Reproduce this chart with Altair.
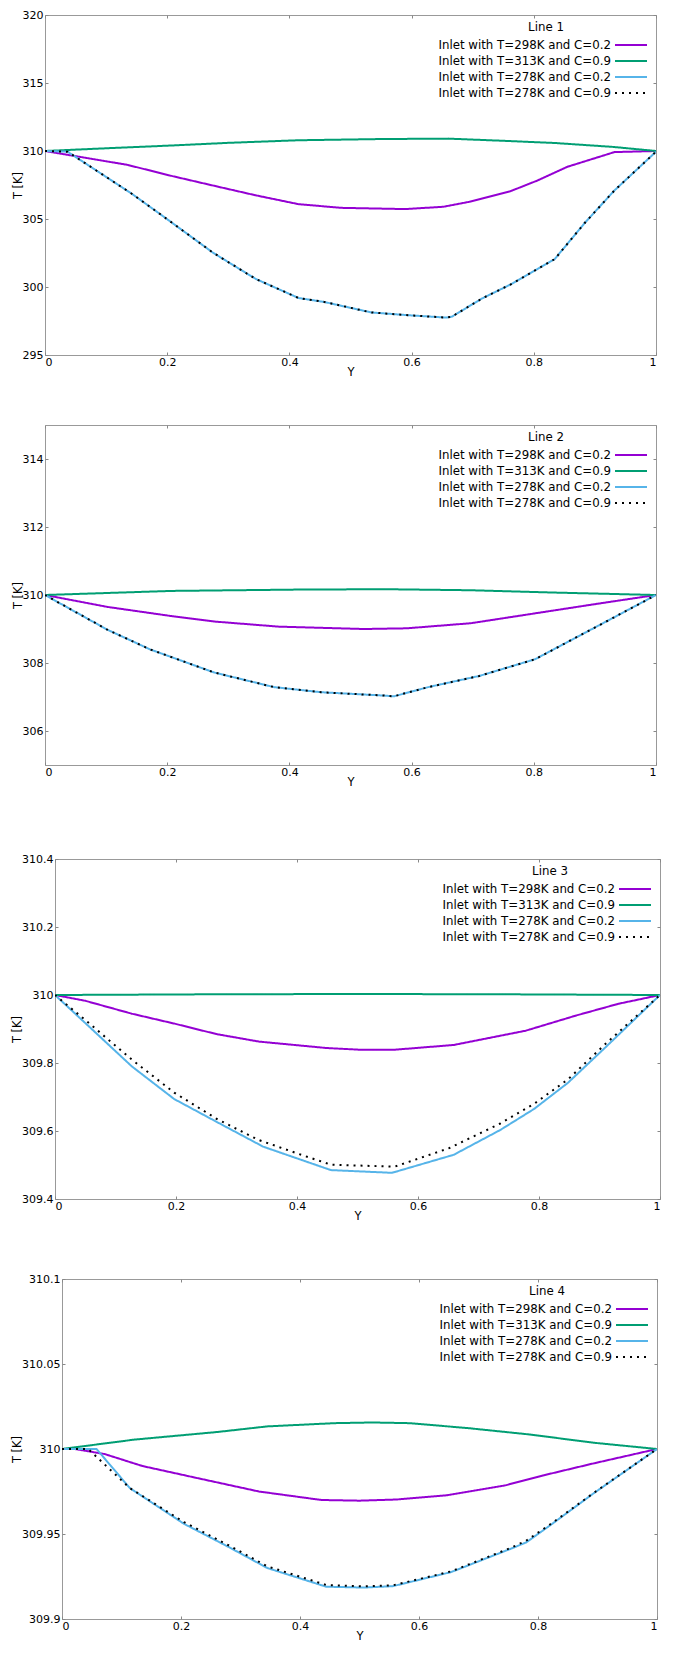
import altair as alt
import pandas as pd

SERIES = [
    "Inlet with T=298K and C=0.2",
    "Inlet with T=313K and C=0.9",
    "Inlet with T=278K and C=0.2",
    "Inlet with T=278K and C=0.9",
]
COLORS = ["#9400d3", "#009e73", "#56b4e9", "#000000"]
DASHES = [[1, 0], [1, 0], [1, 0], [2, 5]]
X_TICKS = [0, 0.2, 0.4, 0.6, 0.8, 1]
PANEL_TITLES = ["Line 1", "Line 2", "Line 3", "Line 4"]
FONT = "DejaVu Sans"

# ---------------- Line 1 ----------------
l1_purple_x = [0, 0.135, 0.205, 0.275, 0.345, 0.415, 0.485, 0.59, 0.652, 0.694, 0.761, 0.806, 0.855, 0.932, 1.0]
l1_purple_t = [310.0, 308.98, 308.19, 307.46, 306.74, 306.09, 305.82, 305.73, 305.90, 306.26, 307.03, 307.83, 308.84, 309.92, 310.0]
l1_green_x = [0, 0.1, 0.205, 0.3, 0.415, 0.55, 0.66, 0.75, 0.834, 0.93, 1.0]
l1_green_t = [310.0, 310.2, 310.40, 310.6, 310.79, 310.88, 310.91, 310.75, 310.59, 310.3, 310.0]
l1_blue_x = [0, 0.037, 0.142, 0.198, 0.275, 0.345, 0.415, 0.457, 0.534, 0.59, 0.656, 0.666, 0.715, 0.764, 0.806, 0.834, 0.883, 0.932, 1.0]
l1_blue_t = [310.0, 309.95, 306.86, 305.05, 302.52, 300.59, 299.19, 298.9, 298.13, 297.94, 297.75, 297.82, 299.15, 300.23, 301.32, 302.04, 304.69, 307.10, 309.95]
l1_dot_x = [0, 0.037, 0.142, 0.198, 0.275, 0.345, 0.415, 0.457, 0.534, 0.59, 0.656, 0.666, 0.715, 0.764, 0.806, 0.834, 0.883, 0.932, 1.0]
l1_dot_t = [310.0, 309.95, 306.86, 305.05, 302.52, 300.59, 299.19, 298.9, 298.13, 297.94, 297.75, 297.82, 299.15, 300.23, 301.32, 302.04, 304.69, 307.10, 309.95]

# ---------------- Line 2 ----------------
l2_purple_x = [0, 0.102, 0.207, 0.277, 0.382, 0.522, 0.592, 0.697, 0.802, 0.907, 1.0]
l2_purple_t = [310.0, 309.65, 309.38, 309.22, 309.07, 309.0, 309.02, 309.17, 309.46, 309.75, 310.0]
l2_green_x = [0, 0.207, 0.417, 0.557, 0.697, 0.837, 1.0]
l2_green_t = [310.0, 310.12, 310.16, 310.17, 310.14, 310.07, 310.0]
l2_blue_x = [0, 0.102, 0.172, 0.277, 0.375, 0.452, 0.557, 0.571, 0.627, 0.711, 0.802, 0.907, 1.0]
l2_blue_t = [310.0, 308.98, 308.4, 307.72, 307.29, 307.14, 307.04, 307.02, 307.29, 307.62, 308.11, 309.11, 310.0]
l2_dot_x = [0, 0.102, 0.172, 0.277, 0.375, 0.452, 0.557, 0.571, 0.627, 0.711, 0.802, 0.907, 1.0]
l2_dot_t = [310.0, 308.98, 308.4, 307.72, 307.29, 307.14, 307.04, 307.02, 307.29, 307.62, 308.11, 309.11, 310.0]

# ---------------- Line 3 ----------------
l3_purple_x = [0, 0.05, 0.127, 0.197, 0.267, 0.337, 0.449, 0.505, 0.561, 0.659, 0.778, 0.862, 0.931, 1.0]
l3_purple_t = [310.0, 309.983, 309.945, 309.916, 309.885, 309.863, 309.844, 309.839, 309.839, 309.853, 309.895, 309.94, 309.974, 310.0]
l3_green_x = [0, 0.25, 0.5, 0.75, 1.0]
l3_green_t = [310.0, 310.002, 310.003, 310.002, 310.0]
l3_blue_x = [0, 0.057, 0.127, 0.197, 0.267, 0.344, 0.456, 0.557, 0.659, 0.736, 0.792, 0.848, 0.911, 1.0]
l3_blue_t = [310.0, 309.906, 309.79, 309.694, 309.627, 309.554, 309.485, 309.477, 309.53, 309.603, 309.665, 309.742, 309.848, 310.0]
l3_dot_x = [0, 0.057, 0.127, 0.197, 0.267, 0.336, 0.407, 0.456, 0.561, 0.652, 0.736, 0.792, 0.848, 0.911, 1.0]
l3_dot_t = [310.0, 309.916, 309.81, 309.713, 309.636, 309.574, 309.53, 309.501, 309.495, 309.55, 309.622, 309.68, 309.752, 309.858, 310.0]

# ---------------- Line 4 ----------------
l4_purple_x = [0, 0.022, 0.072, 0.135, 0.226, 0.331, 0.436, 0.5, 0.563, 0.647, 0.745, 0.808, 0.893, 1.0]
l4_purple_t = [310.0, 310.0, 309.997, 309.990, 309.983, 309.975, 309.970, 309.9696, 309.9703, 309.9728, 309.9786, 309.9844, 309.9915, 310.0]
l4_green_x = [0, 0.121, 0.261, 0.345, 0.458, 0.521, 0.584, 0.682, 0.787, 0.893, 1.0]
l4_green_t = [310.0, 310.0055, 310.010, 310.0133, 310.0152, 310.0156, 310.0152, 310.0123, 310.0085, 310.0037, 310.0]
l4_blue_x = [0, 0.058, 0.114, 0.205, 0.282, 0.345, 0.444, 0.507, 0.556, 0.654, 0.752, 0.78, 0.822, 0.893, 1.0]
l4_blue_t = [310.0, 310.0, 309.977, 309.956, 309.942, 309.930, 309.919, 309.9185, 309.9193, 309.9276, 309.941, 309.945, 309.9555, 309.9738, 310.0]
l4_dot_x = [0, 0.044, 0.114, 0.205, 0.282, 0.345, 0.444, 0.507, 0.556, 0.654, 0.752, 0.78, 0.822, 0.893, 1.0]
l4_dot_t = [310.0, 310.0, 309.977, 309.957, 309.943, 309.931, 309.920, 309.9192, 309.9198, 309.928, 309.9415, 309.946, 309.956, 309.974, 310.0]

Y_DOMAINS = [[295, 320], [305, 315], [309.4, 310.4], [309.9, 310.1]]
Y_TICKS = [
    [295, 300, 305, 310, 315, 320],
    [306, 308, 310, 312, 314],
    [309.4, 309.6, 309.8, 310, 310.2, 310.4],
    [309.9, 309.95, 310, 310.05, 310.1],
]
PANELS = [
    [(l1_purple_x, l1_purple_t), (l1_green_x, l1_green_t), (l1_blue_x, l1_blue_t), (l1_dot_x, l1_dot_t)],
    [(l2_purple_x, l2_purple_t), (l2_green_x, l2_green_t), (l2_blue_x, l2_blue_t), (l2_dot_x, l2_dot_t)],
    [(l3_purple_x, l3_purple_t), (l3_green_x, l3_green_t), (l3_blue_x, l3_blue_t), (l3_dot_x, l3_dot_t)],
    [(l4_purple_x, l4_purple_t), (l4_green_x, l4_green_t), (l4_blue_x, l4_blue_t), (l4_dot_x, l4_dot_t)],
]
WIDTHS = [611, 611, 605, 595]
HEIGHT = 340
ROW_H = 16  # legend row height; the line sample is twice as long

TICK_STYLE = dict(tickSize=3, offset=alt.ExprRef(expr="-3"), domain=False, grid=False,
                  tickColor="#888888", tickWidth=1)


def indep(c):
    return c.resolve_scale(color="independent", strokeDash="independent").resolve_legend(
        color="independent", strokeDash="independent")


def panel(i):
    rows = []
    for name, (xs, ts) in zip(SERIES, PANELS[i]):
        for x, t in zip(xs, ts):
            rows.append({"series": name, "Y": x, "T": t})
    df = pd.DataFrame(rows)
    w = WIDTHS[i]
    xscale = alt.Scale(domain=[0, 1], nice=False)
    yscale = alt.Scale(domain=Y_DOMAINS[i], nice=False, zero=False)
    leg = alt.Legend(
        orient="none",
        legendX=w - 34,
        legendY=21,
        title="",
        labelAlign="right",
        labelOffset=alt.ExprRef(expr="-29"),
        labelFontSize=11.8,
        labelColor="#000000",
        labelLimit=400,
        symbolType="M-2,0H2",
        symbolSize=ROW_H * ROW_H,
        symbolStrokeWidth=2,
        rowPadding=0,
        padding=0,
    )
    lines = alt.Chart(df).mark_line(strokeWidth=2, clip=True).encode(
        x=alt.X("Y:Q", scale=xscale, axis=alt.Axis(
            orient="bottom", values=X_TICKS, format="~g", title="Y",
            labelPadding=1, titlePadding=alt.ExprRef(expr="-1"), **TICK_STYLE)),
        y=alt.Y("T:Q", scale=yscale, axis=alt.Axis(
            orient="left", values=Y_TICKS[i], format="~g", title="T [K]",
            labelPadding=2, titlePadding=alt.ExprRef(expr="-1"), **TICK_STYLE)),
        color=alt.Color("series:N", scale=alt.Scale(domain=SERIES, range=COLORS), legend=leg),
        strokeDash=alt.StrokeDash("series:N", scale=alt.Scale(domain=SERIES, range=DASHES), legend=leg),
    )
    mirror = alt.Chart(df).mark_line(opacity=0).encode(
        x=alt.X("Y:Q", scale=xscale, axis=alt.Axis(
            orient="top", values=X_TICKS, labels=False, title=None, **TICK_STYLE)),
        y=alt.Y("T:Q", scale=yscale, axis=alt.Axis(
            orient="right", values=Y_TICKS[i], labels=False, title=None, **TICK_STYLE)),
        detail="series:N",
    )
    heading = alt.Chart(pd.DataFrame({"label": [PANEL_TITLES[i]]})).mark_text(
        font=FONT, fontSize=11.8, color="#000000", align="center", baseline="middle"
    ).encode(text="label:N", x=alt.value(w - 110), y=alt.value(12))
    body = (
        alt.layer(lines, mirror, heading)
        .resolve_axis(x="independent", y="independent")
        .properties(width=w, height=HEIGHT)
    )
    spacer = (
        alt.Chart(pd.DataFrame({"s": [0]}))
        .mark_rule(opacity=0)
        .encode(x=alt.value(0), y=alt.value(0), y2=alt.value(1))
        .properties(width=1, height=HEIGHT, view=alt.ViewBackground(stroke="transparent"))
    )
    return indep(alt.hconcat(spacer, body, spacing=0))


top = indep(alt.concat(panel(0), panel(1), columns=1, spacing=46, align="none"))
bottom = indep(alt.concat(panel(2), panel(3), columns=1, spacing=50, align="none"))
chart = (
    indep(alt.concat(top, bottom, columns=1, spacing=64, align="none"))
    .properties(padding=0)
    .configure_view(stroke="#999999", strokeWidth=1)
    .configure_axis(
        labelFont=FONT, labelFontSize=11, labelColor="#000000",
        titleFont=FONT, titleFontSize=11.5, titleFontWeight="normal", titleColor="#000000",
    )
    .configure_legend(labelFont=FONT, titleFont=FONT)
)

chart.save("out.html", embed_options={"renderer": "svg", "actions": False})
